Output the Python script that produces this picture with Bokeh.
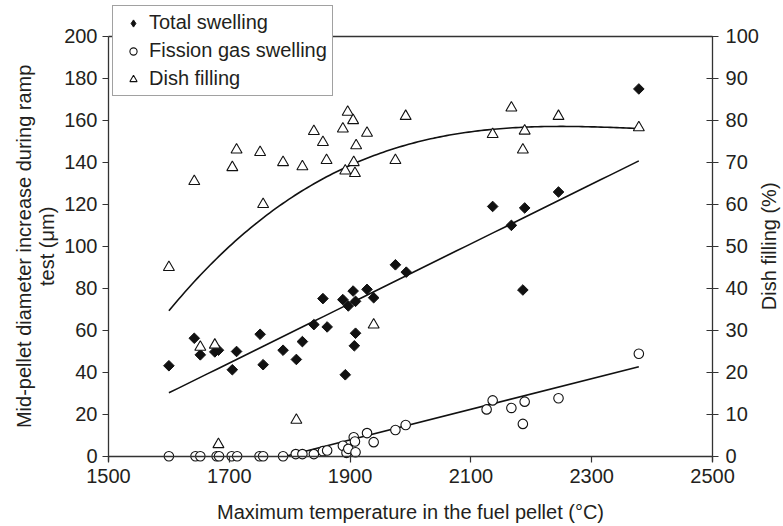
import numpy as np
from bokeh.plotting import figure
from bokeh.models import Range1d, LinearAxis, Legend, LegendItem, Label, FixedTicker
from bokeh.embed import file_html
from bokeh.resources import INLINE

# ---- data ----
total_T = [1600, 1642, 1652, 1676, 1682, 1705, 1712, 1751, 1756, 1789, 1811, 1821,
           1840, 1855, 1862, 1888, 1892, 1897, 1905, 1907, 1909, 1909, 1928, 1939,
           1975, 1993, 2136, 2167, 2186, 2189, 2245, 2378]
total_um = [43.1, 56.2, 48.3, 49.7, 50.5, 41.2, 49.9, 58.1, 43.6, 50.5, 46.1, 54.6,
            62.7, 75.1, 61.6, 74.6, 38.8, 71.6, 78.7, 52.6, 73.8, 58.6, 79.5, 75.5,
            91.2, 87.7, 119.0, 110.0, 79.2, 118.3, 125.9, 175.0]

gas_T = [1600, 1644, 1652, 1679, 1683, 1704, 1713, 1750, 1756, 1789, 1810, 1821,
         1840, 1855, 1862, 1888, 1894, 1897, 1906, 1908, 1909, 1928, 1939, 1975,
         1992, 2126, 2136, 2167, 2186, 2189, 2245, 2378]
gas_um = [0, 0, 0, 0, 0, 0, 0, 0, 0, 0, 1.0, 1.0,
          1.0, 2.4, 2.7, 5.0, 1.6, 3.5, 9.0, 7.0, 1.9, 11.0, 6.7, 12.5,
          14.9, 22.3, 26.6, 23.0, 15.4, 26.0, 27.6, 48.8]

dish_T = [1600, 1642, 1652, 1676, 1682, 1705, 1712, 1751, 1756, 1789, 1811, 1821,
          1840, 1855, 1861, 1888, 1892, 1896, 1905, 1906, 1908, 1910, 1928, 1939,
          1975, 1992, 2136, 2167, 2186, 2189, 2245, 2378]
dish_pct = [45.0, 65.5, 26.0, 26.5, 2.8, 68.8, 73.0, 72.4, 60.0, 70.0, 8.6, 69.0,
            77.4, 74.8, 70.5, 78.0, 68.0, 82.0, 80.0, 70.0, 67.4, 74.0, 77.0, 31.3,
            70.5, 81.0, 76.7, 83.0, 73.0, 77.5, 81.0, 78.3]

# trend lines
gas_trend_T = [1793, 2378]
gas_trend_um = [0.0, 42.6]
dish_trend_T = [1600, 1642, 1652, 1702, 1884, 1978, 2143, 2281, 2378]
dish_trend_pct = [34.2, 41.7, 43.3, 50.7, 67.9, 73.4, 77.9, 79.0, 77.8]

x_ticks = [1500, 1700, 1900, 2100, 2300, 2500]
left_ticks = [0, 20, 40, 60, 80, 100, 120, 140, 160, 180, 200]
right_ticks = [0, 10, 20, 30, 40, 50, 60, 70, 80, 90, 100]

TXT = "#231f20"
INK = "#111111"
AX = "#333333"
FONT = "Liberation Sans"
FS = "20px"

# total swelling: least-squares line of the data
c_tot = np.polyfit(np.asarray(total_T, float), np.asarray(total_um, float), 1)
xt = np.linspace(min(total_T), max(total_T), 50)
# dish filling: smooth curve through the read trend points
c_dish = np.polyfit(np.asarray(dish_trend_T, float), np.asarray(dish_trend_pct, float), 3)
xd = np.linspace(min(dish_trend_T), max(dish_trend_T), 150)

# frame covers the whole canvas; axes sit at fixed data positions
p = figure(width=783, height=526, output_backend="svg", toolbar_location=None,
           x_range=Range1d(1321.2, 2617.5), y_range=Range1d(-33.5, 217.15),
           x_axis_location=None, y_axis_location=None,
           min_border=0, min_border_left=0, min_border_right=0,
           min_border_top=0, min_border_bottom=0)
p.extra_y_ranges = {"dish": Range1d(-16.75, 108.575)}
p.grid.visible = False
p.outline_line_color = None
p.background_fill_color = "white"
p.border_fill_color = "white"

bax = LinearAxis(fixed_location=0, bounds=(1500, 2500), ticker=x_ticks)
lax = LinearAxis(fixed_location=1500, bounds=(-2.5, 200), ticker=left_ticks)
rax = LinearAxis(fixed_location=2500, bounds=(-1.25, 100), ticker=right_ticks,
                 y_range_name="dish")
tax = LinearAxis(fixed_location=200, bounds=(1500, 2500), ticker=FixedTicker(ticks=[]))

for ax in [bax, lax, rax, tax]:
    ax.axis_line_color = AX
    ax.axis_line_width = 1.3
    ax.major_tick_line_color = AX
    ax.major_tick_line_width = 1.2
    ax.minor_tick_line_color = None
    ax.major_label_text_font = FONT
    ax.major_label_text_font_size = FS
    ax.major_label_text_color = TXT

bax.major_tick_in = 0
bax.major_tick_out = 6
bax.major_label_standoff = 7
lax.major_tick_in = 0
lax.major_tick_out = 6
lax.major_label_standoff = 5
rax.major_tick_in = 6
rax.major_tick_out = 6
rax.major_label_standoff = 7
tax.major_tick_in = 0
tax.major_tick_out = 0

p.add_layout(bax, "below")
p.add_layout(lax, "left")
p.add_layout(rax, "right")
p.add_layout(tax, "above")

# trend lines
p.line(xt, np.polyval(c_tot, xt), line_color=INK, line_width=1.6)
p.line(gas_trend_T, gas_trend_um, line_color=INK, line_width=1.6)
p.line(xd, np.polyval(c_dish, xd), line_color=INK, line_width=1.6, y_range_name="dish")

# legend swatch for the diamonds (legend glyphs ignore marker angle); hidden under the
# rotated squares in the plot
r_tot_key = p.scatter(total_T, total_um, marker="diamond", size=7,
                      fill_color=INK, line_color=INK)
# markers
r_tot = p.scatter(total_T, total_um, marker="square", angle=np.pi / 4, size=7.5,
                  fill_color=INK, line_color=INK, line_width=1)
r_gas = p.scatter(gas_T, gas_um, marker="circle", size=9.5, fill_color="white",
                  line_color=INK, line_width=1.1)
r_dish = p.scatter(dish_T, dish_pct, marker="triangle", size=11, fill_color="white",
                   line_color=INK, line_width=1.1, y_range_name="dish")

legend = Legend(items=[LegendItem(label="Total swelling", renderers=[r_tot_key]),
                       LegendItem(label="Fission gas swelling", renderers=[r_gas]),
                       LegendItem(label="Dish filling", renderers=[r_dish])],
                location=(112, 430), margin=0, padding=5, spacing=5,
                glyph_width=30, glyph_height=18, label_height=18, label_standoff=1,
                label_text_font=FONT, label_text_font_size=FS, label_text_color=TXT,
                border_line_color="#444444", border_line_width=1.2,
                background_fill_color="white", background_fill_alpha=1.0)
p.add_layout(legend)

common = dict(text_font=FONT, text_font_size=FS, text_color=TXT,
              text_align="center", text_baseline="middle")
p.add_layout(Label(x=2000, y=0, y_offset=-56, text="Maximum temperature in the fuel pellet (\u00b0C)", **common))
p.add_layout(Label(x=1500, y=100, x_offset=-85, angle=np.pi / 2,
                   text="Mid-pellet diameter increase during ramp", **common))
p.add_layout(Label(x=1500, y=100, x_offset=-62, angle=np.pi / 2,
                   text="test (\u03bcm)", **common))
p.add_layout(Label(x=2500, y=100, x_offset=56, angle=np.pi / 2,
                   text="Dish filling (%)", **common))

open("out.html", "w").write(file_html(p, INLINE))
